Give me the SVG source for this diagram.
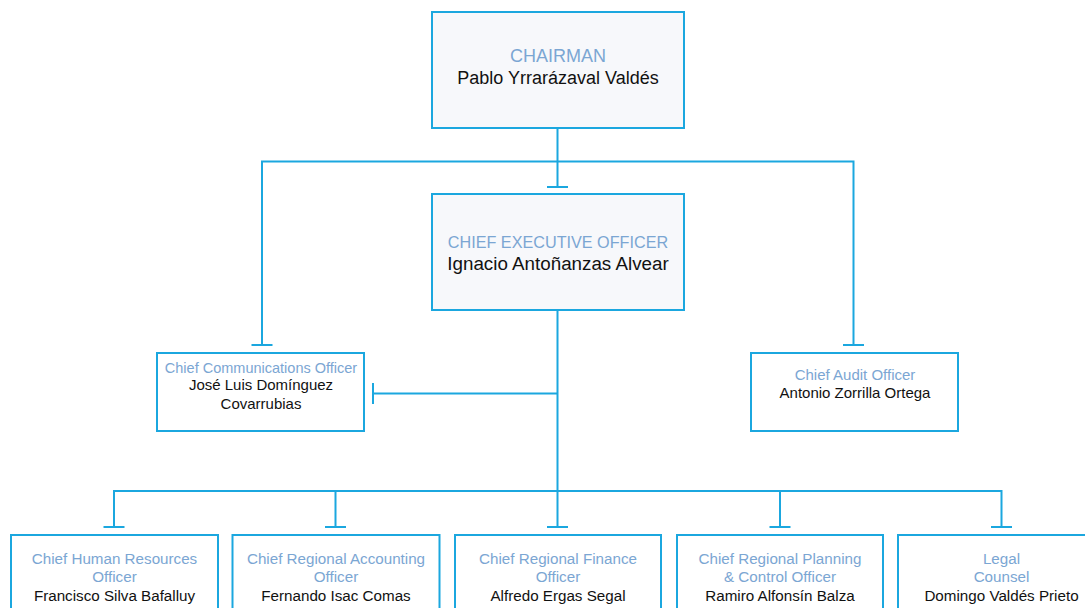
<svg xmlns="http://www.w3.org/2000/svg" width="1085" height="608" viewBox="0 0 1085 608">
<style>
.box{fill:#ffffff;stroke:#1ba7df;stroke-width:2}
.main{fill:#f7f8fb}
.ln{fill:none;stroke:#1ba7df;stroke-width:2}
text{font-family:"Liberation Sans","Open Sans",sans-serif;text-anchor:middle}
.t{fill:#7ba6d3}
.n{fill:#111111}
.big{font-size:18px}
.ceo{font-size:16.2px}
.sm{font-size:15px}
.smt{font-size:14.5px}
.md{font-size:15.2px}
</style>
<rect width="1085" height="608" fill="#ffffff"/>
<g id="connectors">
<path class="ln" d="M557.5 128V187M547 187H568"/>
<path class="ln" d="M262 345V161.5H853.5V345M251.5 345H272.5M843 345H864"/>
<path class="ln" d="M557.5 310V491M557.5 393.5H373M373 383V404"/>
<path class="ln" d="M114 527V491H1001.5V527M103.5 527H124.5M325 527H346M547 527H568M769.5 527H790.5M991 527H1012M335.5 491V527M557.5 491V527M780 491V527"/>
</g>
<g id="chairman">
<rect class="box main" x="432" y="12" width="252" height="116"/>
<text class="t big" x="558" y="62">CHAIRMAN</text>
<text class="n big" x="558" y="84">Pablo Yrrarázaval Valdés</text>
</g>
<g id="ceo">
<rect class="box main" x="432" y="194" width="252" height="116"/>
<text class="t ceo" x="558" y="248">CHIEF EXECUTIVE OFFICER</text>
<text class="n big" x="558" y="270" style="font-size:18.8px">Ignacio Antoñanzas Alvear</text>
</g>
<g id="comms">
<rect class="box" x="157" y="353" width="207" height="78"/>
<text class="t smt" x="261" y="373">Chief Communications Officer</text>
<text class="n sm" x="261" y="390">José Luis Domínguez</text>
<text class="n sm" x="261" y="409">Covarrubias</text>
</g>
<g id="audit">
<rect class="box" x="751" y="353" width="207" height="78"/>
<text class="t sm" x="855" y="380">Chief Audit Officer</text>
<text class="n sm" x="855" y="398">Antonio Zorrilla Ortega</text>
</g>
<g id="hr">
<rect class="box" x="11" y="535" width="207" height="90"/>
<text class="t md" x="114.5" y="564">Chief Human Resources</text>
<text class="t md" x="114.5" y="582">Officer</text>
<text class="n md" x="114.5" y="601">Francisco Silva Bafalluy</text>
</g>
<g id="accounting">
<rect class="box" x="232.5" y="535" width="207" height="90"/>
<text class="t md" x="336" y="564">Chief Regional Accounting</text>
<text class="t md" x="336" y="582">Officer</text>
<text class="n md" x="336" y="601">Fernando Isac Comas</text>
</g>
<g id="finance">
<rect class="box" x="455" y="535" width="206" height="90"/>
<text class="t md" x="558" y="564">Chief Regional Finance</text>
<text class="t md" x="558" y="582">Officer</text>
<text class="n md" x="558" y="601">Alfredo Ergas Segal</text>
</g>
<g id="planning">
<rect class="box" x="677" y="535" width="206" height="90"/>
<text class="t md" x="780" y="564">Chief Regional Planning</text>
<text class="t md" x="780" y="582">&amp; Control Officer</text>
<text class="n md" x="780" y="601">Ramiro Alfonsín Balza</text>
</g>
<g id="legal">
<rect class="box" x="898" y="535" width="207" height="90"/>
<text class="t md" x="1001.5" y="564">Legal</text>
<text class="t md" x="1001.5" y="582">Counsel</text>
<text class="n md" x="1001.5" y="601">Domingo Valdés Prieto</text>
</g>
</svg>
